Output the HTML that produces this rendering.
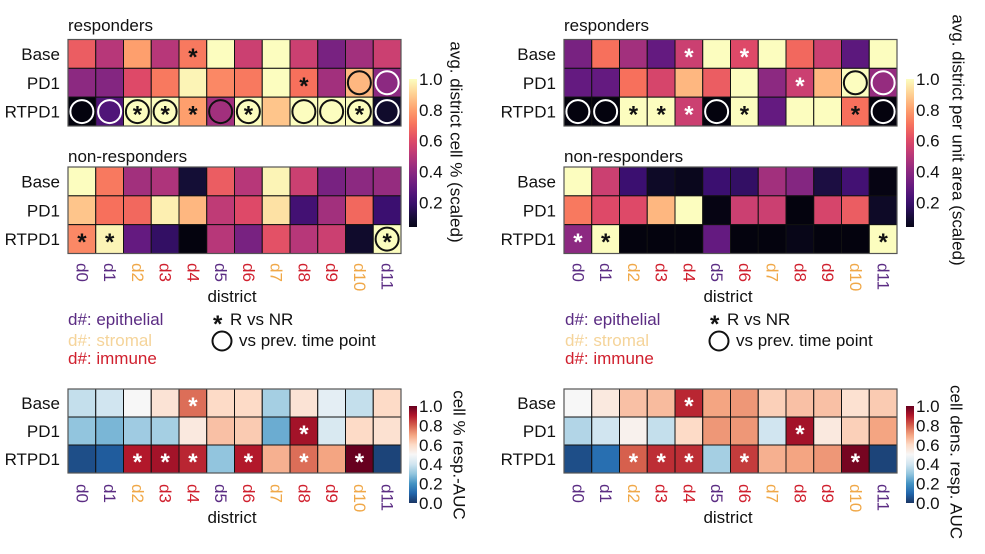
<!DOCTYPE html>
<html><head><meta charset="utf-8"><style>
html,body{margin:0;padding:0;background:#fff;}
svg{display:block;font-family:"Liberation Sans",Arial,sans-serif;}
</style></head><body>
<svg id="fig" width="985" height="554" viewBox="0 0 985 554"></svg>
<script>
const districts = ['d0','d1','d2','d3','d4','d5','d6','d7','d8','d9','d10','d11'];
const districtTypes = ['e','e','s','i','i','e','i','s','i','i','s','e'];
const timepoints = ['Base','PD1','RTPD1'];
const magmaTicks = ['0.2','0.4','0.6','0.8','1.0'];
const aucTicks = ['0.0','0.2','0.4','0.6','0.8','1.0'];
// top-left: avg district cell % (scaled)
const tlRespValues = [
 [0.65,0.5,0.8,0.5,0.72,1.0,0.55,1.0,0.55,0.35,0.45,0.55],
 [0.4,0.38,0.6,0.72,0.98,0.75,0.72,1.0,0.7,0.45,0.85,0.4],
 [0.02,0.25,1.0,1.0,0.8,0.45,1.0,0.88,1.0,1.0,1.0,0.08]];
const tlRespMarks = [
 ['','','','','s','','','','','','',''],
 ['','','','','','','','','s','','c','C'],
 ['C','C','cs','cs','s','c','cs','','c','c','cs','C']];
const tlNonValues = [
 [1.0,0.72,0.45,0.48,0.1,0.65,0.5,0.98,0.55,0.35,0.4,0.42],
 [0.88,0.7,0.68,0.97,0.85,0.52,0.6,0.94,0.22,0.45,0.68,0.2],
 [0.75,0.98,0.3,0.18,0.02,0.5,0.35,0.62,0.5,0.55,0.08,1.0]];
const tlNonMarks = [
 ['','','','','','','','','','','',''],
 ['','','','','','','','','','','',''],
 ['s','s','','','','','','','','','','cs']];
// top-right: avg district per unit area (scaled)
const trRespValues = [
 [0.35,0.7,0.45,0.3,0.55,1.0,0.6,1.0,0.68,0.55,0.28,1.0],
 [0.3,0.3,0.7,0.58,0.85,0.65,1.0,0.4,0.55,0.85,1.0,0.42],
 [0.02,0.02,1.0,1.0,0.55,0.02,1.0,0.3,1.0,1.0,0.7,0.02]];
const trRespMarks = [
 ['','','','','w','','w','','','','',''],
 ['','','','','','','','','w','','c','C'],
 ['C','C','s','s','w','C','s','','','','s','C']];
const trNonValues = [
 [1.0,0.55,0.2,0.07,0.05,0.2,0.18,0.45,0.38,0.12,0.22,0.03],
 [0.72,0.6,0.6,0.85,1.0,0.03,0.55,0.55,0.02,0.58,0.65,0.07],
 [0.4,1.0,0.02,0.02,0.02,0.3,0.02,0.02,0.04,0.02,0.02,1.0]];
const trNonMarks = [
 ['','','','','','','','','','','',''],
 ['','','','','','','','','','','',''],
 ['w','s','','','','','','','','','','s']];
// bottom: resp-AUC
const blValues = [
 [0.38,0.4,0.5,0.57,0.78,0.6,0.6,0.33,0.57,0.45,0.38,0.6],
 [0.3,0.27,0.32,0.33,0.55,0.65,0.63,0.25,0.92,0.42,0.6,0.58],
 [0.05,0.08,0.9,0.92,0.88,0.3,0.9,0.68,0.78,0.7,1.0,0.03]];
const blMarks = [
 ['','','','','w','','','','','','',''],
 ['','','','','','','','','w','','',''],
 ['','','w','w','w','','w','','w','','w','']];
const brValues = [
 [0.5,0.55,0.65,0.66,0.88,0.7,0.72,0.62,0.65,0.65,0.58,0.63],
 [0.35,0.4,0.52,0.38,0.6,0.72,0.72,0.4,0.92,0.55,0.62,0.7],
 [0.05,0.12,0.8,0.87,0.87,0.33,0.85,0.68,0.7,0.72,0.98,0.03]];
const brMarks = [
 ['','','','','w','','','','','','',''],
 ['','','','','','','','','w','','',''],
 ['','','w','w','w','','w','','','','w','']];

const NS='http://www.w3.org/2000/svg';
const svg=document.getElementById('fig');
function mk(tag,attrs,parent,text){const e=document.createElementNS(NS,tag);for(const k in attrs)e.setAttribute(k,attrs[k]);if(text!==undefined)e.textContent=text;(parent||svg).appendChild(e);return e;}
const MAGMA=['#000004','#140e36','#3b0f70','#641a80','#8c2981','#b73779','#de4968','#f7705c','#fe9f6d','#fecf92','#fcfdbf'];
const RDBU=['#1a3563','#2166ac','#4393c3','#92c5de','#d1e5f0','#f7f7f7','#fddbc7','#f4a582','#d6604d','#b2182b','#67001f'];
function hex(h){return [1,3,5].map(i=>parseInt(h.substr(i,2),16));}
function cmap(stops,v){v=Math.max(0,Math.min(1,v));const p=v*10,i=Math.min(9,Math.floor(p)),t=p-i;const a=hex(stops[i]),b=hex(stops[i+1]);return 'rgb('+a.map((x,k)=>Math.round(x+(b[k]-x)*t)).join(',')+')';}
const typeColor={e:'#5b2c83',s:'#f0a848',i:'#d0202e'};

function heatmap(name,x0,y0,w,h,values,marks,stops){
  const g=mk('g',{});
  
  
  const cw=w/districts.length,ch=h/timepoints.length;
  const xs=c=>x0+c*cw, ys=r=>y0+r*ch;
  values.forEach((row,r)=>row.forEach((v,c)=>{
    const rc=mk('rect',{x:xs(c),y:ys(r),width:cw,height:ch,fill:cmap(stops,v),stroke:'#111','stroke-width':1},g);
    
    
    const m=marks[r][c],cx=xs(c)+cw/2,cy=ys(r)+ch/2;
    if(m.indexOf('c')>=0||m.indexOf('C')>=0){
      const ci=mk('circle',{cx:cx,cy:cy,r:11.5,fill:'none',stroke:m.indexOf('C')>=0?'#fff':'#111','stroke-width':2},g);
      
      
    }
    if(m.indexOf('s')>=0||m.indexOf('w')>=0){
      const st=mk('text',{x:cx,y:cy+11,'text-anchor':'middle','font-size':24,'font-weight':'bold',fill:m.indexOf('w')>=0?'#fff':'#111'},g,'*');
      
      
    }
  }));
  mk('rect',{x:x0,y:y0,width:w,height:h,fill:'none',stroke:'#555','stroke-width':1.2},g);
  timepoints.forEach((t,r)=>{
    const tl=mk('text',{x:x0-8,y:ys(r)+ch/2+6,'text-anchor':'end','font-size':17,fill:'#111'},g,t);
    
    
  });
}
function colLabels(x0,w,y){
  const cw=w/districts.length;
  districts.forEach((d,c)=>{
    const cx=x0+c*cw+cw/2;
    const t=mk('text',{x:cx,y:y,'font-size':17,fill:typeColor[districtTypes[c]],'dominant-baseline':'central',transform:'rotate(90 '+cx+' '+y+')'},svg,d);
    
    
  });
}
function label(x,y,txt,name,opts){
  const a=Object.assign({x:x,y:y,'font-size':17,fill:'#111'},opts||{});
  const t=mk('text',a,svg,txt);
  
  
  return t;
}
function colorbar(name,x,yTop,yBot,stops,ticks,vTop,vBot,lblX,lblY,lbl){
  const id='g'+name;
  const d=mk('defs',{});
  const lg=mk('linearGradient',{id:id,x1:0,y1:1,x2:0,y2:0},d);
  for(let i=0;i<=20;i++){const v=vBot+(vTop-vBot)*i/20;mk('stop',{offset:i/20,'stop-color':cmap(stops,v)},lg);}
  const r=mk('rect',{x:x,y:yTop,width:8,height:yBot-yTop,fill:'url(#'+id+')'});
  
  
  const yv=v=>yBot-(v-vBot)/(vTop-vBot)*(yBot-yTop);
  ticks.forEach(t=>{label(x+10,yv(parseFloat(t))+6,t,'colorbar-tick-label');});
  label(lblX,lblY,lbl,'colorbar-title',{'text-anchor':'middle','dominant-baseline':'central',transform:'rotate(90 '+lblX+' '+lblY+')'});
}

// top-left panel
label(68,31,'responders','responders-title');
heatmap('heatmap-top-left-responders',68,39.5,333,86.5,tlRespValues,tlRespMarks,MAGMA);
label(68,162,'non-responders','non-responders-title');
heatmap('heatmap-top-left-nonresponders',68,167,333,86.5,tlNonValues,tlNonMarks,MAGMA);
colLabels(68,333,263);
label(232,302,'district','x-axis-title',{'text-anchor':'middle'});
colorbar('colorbar-top-left',409,79,227,MAGMA,magmaTicks,1.0,0.04,456,142,'avg. district cell % (scaled)');

// top-right panel
label(564,31,'responders','responders-title');
heatmap('heatmap-top-right-responders',564,39.5,333,86.5,trRespValues,trRespMarks,MAGMA);
label(564,162,'non-responders','non-responders-title');
heatmap('heatmap-top-right-nonresponders',564,167,333,86.5,trNonValues,trNonMarks,MAGMA);
colLabels(564,333,263);
label(728,302,'district','x-axis-title',{'text-anchor':'middle'});
colorbar('colorbar-top-right',906,79,227,MAGMA,magmaTicks,1.0,0.04,958,140,'avg. district per unit area (scaled)');

// legends
[[68,212,232],[565,709,729]].forEach(([lx,cx,tx])=>{
  label(lx,325,'d#: epithelial','legend-epithelial',{fill:'#5b2c83'});
  label(lx,346,'d#: stromal','legend-stromal',{fill:'#f5d49a'});
  label(lx,364,'d#: immune','legend-immune',{fill:'#d0202e'});
  label(cx+1,332,'*','legend-star',{'font-size':24,'font-weight':'bold'});
  label(cx+18,325,'R vs NR','legend-star-text');
  const c=mk('circle',{cx:cx+10,cy:341,r:9.5,fill:'none',stroke:'#111','stroke-width':2});
  
  
  label(cx+27,346,'vs prev. time point','legend-circle-text');
});

// bottom panels
heatmap('heatmap-bottom-left',68,389,333,84,blValues,blMarks,RDBU);
colLabels(68,333,484);
label(232,523,'district','x-axis-title',{'text-anchor':'middle'});
colorbar('colorbar-bottom-left',409,406,503,RDBU,aucTicks,1.0,0.0,459,455,'cell % resp.-AUC');
heatmap('heatmap-bottom-right',564,389,333,84,brValues,brMarks,RDBU);
colLabels(564,333,484);
label(728,523,'district','x-axis-title',{'text-anchor':'middle'});
colorbar('colorbar-bottom-right',906,406,503,RDBU,aucTicks,1.0,0.0,956,462,'cell dens. resp. AUC');
</script>
</body></html>
